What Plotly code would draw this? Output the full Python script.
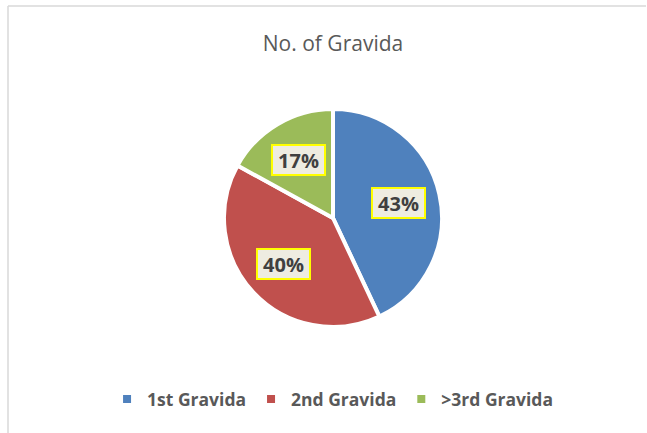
import math
import plotly.graph_objects as go

categories = ["1st Gravida", "2nd Gravida", ">3rd Gravida"]
values = [43, 40, 17]
colors = ["#4F81BD", "#C0504D", "#9BBB59"]

W, H = 647, 433
cx, cy, R = 333, 218, 109  # pie centre / radius in pixels

dom_x = [(cx - R) / W, (cx + R) / W]
dom_y = [(H - cy - R) / H, (H - cy + R) / H]

fig = go.Figure(go.Pie(
    labels=categories,
    values=values,
    marker=dict(colors=colors, line=dict(color="white", width=4)),
    sort=False,
    direction="clockwise",
    rotation=0,
    textinfo="none",
    hoverinfo="label+percent",
    domain=dict(x=dom_x, y=dom_y),
))

# data labels as boxed annotations placed at the slice mid-angles
total = sum(values)
cum = 0
annotations = []
for v in values:
    mid = (cum + v / 2) / total * 2 * math.pi
    cum += v
    rl = 0.62 * R
    px = cx + rl * math.sin(mid)
    py = cy - rl * math.cos(mid)
    annotations.append(dict(
        x=px / W, y=(H - py) / H, xref="paper", yref="paper",
        text="<b>%d%%</b>" % round(v / total * 100),
        showarrow=False,
        font=dict(family="Open Sans, sans-serif", size=20, color="#404040"),
        bgcolor="#EEECE1", bordercolor="#FFFF00", borderwidth=2,
        borderpad=1, width=49, height=26,
    ))

fig.update_layout(
    width=W, height=H,
    margin=dict(l=0, r=0, t=0, b=0),
    paper_bgcolor="white",
    title=dict(text="No. of Gravida", x=cx / W, xanchor="center",
               y=(H - 44) / H, yanchor="middle",
               font=dict(family="Open Sans, sans-serif", size=21, color="#595959")),
    showlegend=True,
    legend=dict(orientation="h", x=0.514, xanchor="center", y=(H - 399) / H,
                yanchor="middle",
                font=dict(family="Open Sans, sans-serif", size=17.5, color="#595959",
                          weight="bold"),
                itemwidth=30, traceorder="normal"),
    annotations=annotations,
    shapes=[
        dict(type="line", xref="paper", yref="paper", x0=8 / W, x1=646 / W,
             y0=(H - 6) / H, y1=(H - 6) / H, line=dict(color="#D9D9D9", width=1.5)),
        dict(type="line", xref="paper", yref="paper", x0=8 / W, x1=8 / W,
             y0=0, y1=(H - 6) / H, line=dict(color="#D9D9D9", width=1.5)),
    ],
)

fig.write_html("out.html",
               config={"displayModeBar": False},
               post_script="document.body.style.margin='0';"
                           "document.body.style.overflow='hidden';")
